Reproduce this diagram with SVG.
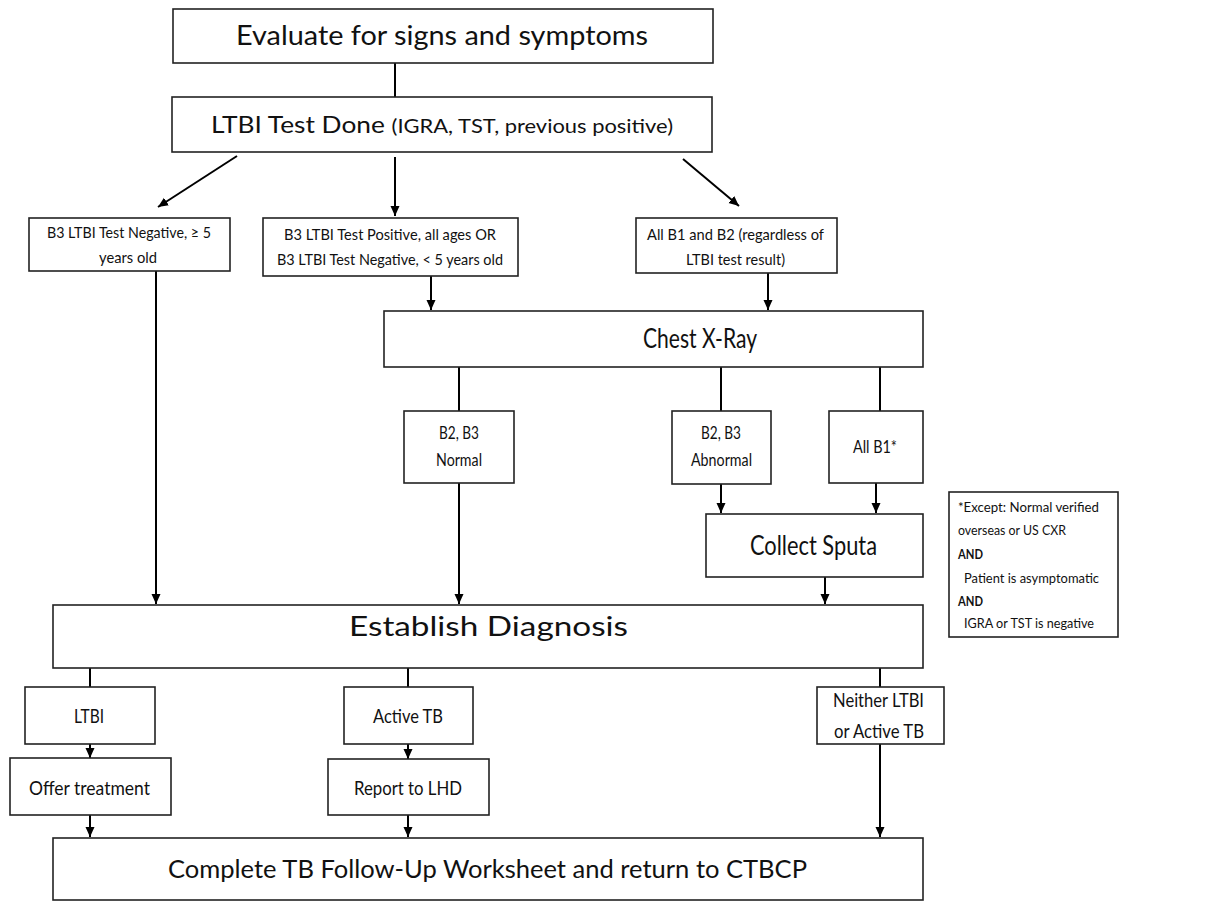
<svg xmlns="http://www.w3.org/2000/svg" width="1225" height="902" viewBox="0 0 1225 902">
<style>
.box{fill:#fff;stroke:#222;stroke-width:1.6}
.t{font-family:Lato,"Liberation Sans",sans-serif;fill:#111}
.s{font-size:16px}
.m{font-size:19px}
.n{font-size:14px}
.c{stroke:#000;stroke-width:2;fill:none}
.a{marker-end:url(#ah)}
</style>
<defs>
<marker id="ah" markerUnits="userSpaceOnUse" markerWidth="10" markerHeight="10" viewBox="0 0 10 10" refX="10" refY="5" orient="auto">
<path d="M0,0.5 L10,5 L0,9.5 z" fill="#000"/>
</marker>
</defs>
<rect width="1225" height="902" fill="#fff"/>
<g id="connectors">
<line class="c" x1="395" y1="63" x2="395" y2="97"/>
<line class="c a" x1="237" y1="156" x2="158" y2="207"/>
<line class="c a" x1="395" y1="157" x2="395" y2="216"/>
<line class="c a" x1="683" y1="159" x2="739" y2="206"/>
<line class="c a" x1="156" y1="271" x2="156" y2="604"/>
<line class="c a" x1="431" y1="276" x2="431" y2="310"/>
<line class="c a" x1="768" y1="273" x2="768" y2="310"/>
<line class="c" x1="459" y1="367" x2="459" y2="411"/>
<line class="c a" x1="459" y1="483" x2="459" y2="604"/>
<line class="c" x1="721" y1="367" x2="721" y2="411"/>
<line class="c a" x1="721" y1="484" x2="721" y2="513"/>
<line class="c" x1="880" y1="367" x2="880" y2="411"/>
<line class="c a" x1="876" y1="483" x2="876" y2="513"/>
<line class="c a" x1="825" y1="577" x2="825" y2="604"/>
<line class="c" x1="90" y1="668" x2="90" y2="687"/>
<line class="c a" x1="90" y1="744" x2="90" y2="758"/>
<line class="c a" x1="90" y1="815" x2="90" y2="837"/>
<line class="c" x1="408" y1="668" x2="408" y2="687"/>
<line class="c a" x1="408" y1="744" x2="408" y2="759"/>
<line class="c a" x1="408" y1="815" x2="408" y2="837"/>
<line class="c" x1="880" y1="668" x2="880" y2="687"/>
<line class="c a" x1="880" y1="744" x2="880" y2="837"/>
</g>
<g id="evaluate">
<rect class="box" x="173" y="9" width="540" height="54"/>
<text class="t" x="236" y="45" font-size="26" textLength="412" lengthAdjust="spacingAndGlyphs">Evaluate for signs and symptoms</text>
</g>
<g id="ltbi-test">
<rect class="box" x="172" y="97" width="540" height="55"/>
<text class="t" x="211" y="133" textLength="462" lengthAdjust="spacingAndGlyphs"><tspan font-size="24">LTBI Test Done </tspan><tspan font-size="20">(IGRA, TST, previous positive)</tspan></text>
</g>
<g id="b3-negative">
<rect class="box" x="29" y="218" width="201" height="53"/>
<text class="t s" x="47" y="238" textLength="164" lengthAdjust="spacingAndGlyphs">B3 LTBI Test Negative, ≥ 5</text>
<text class="t s" x="99" y="263" textLength="58" lengthAdjust="spacingAndGlyphs">years old</text>
</g>
<g id="b3-positive">
<rect class="box" x="263" y="218" width="255" height="58"/>
<text class="t s" x="284" y="240" textLength="212" lengthAdjust="spacingAndGlyphs">B3 LTBI Test Positive, all ages OR</text>
<text class="t s" x="277" y="265" textLength="226" lengthAdjust="spacingAndGlyphs">B3 LTBI Test Negative, &lt; 5 years old</text>
</g>
<g id="all-b1-b2">
<rect class="box" x="636" y="218" width="201" height="55"/>
<text class="t s" x="647" y="240" textLength="177" lengthAdjust="spacingAndGlyphs">All B1 and B2 (regardless of</text>
<text class="t s" x="686" y="265" textLength="99" lengthAdjust="spacingAndGlyphs">LTBI test result)</text>
</g>
<g id="chest-xray">
<rect class="box" x="384" y="311" width="539" height="56"/>
<text class="t" x="643" y="348" font-size="26" textLength="114" lengthAdjust="spacingAndGlyphs">Chest X-Ray</text>
</g>
<g id="normal">
<rect class="box" x="404" y="411" width="110" height="72"/>
<text class="t" x="439" y="439" font-size="17" textLength="40" lengthAdjust="spacingAndGlyphs">B2, B3</text>
<text class="t" x="436" y="466" font-size="17" textLength="46" lengthAdjust="spacingAndGlyphs">Normal</text>
</g>
<g id="abnormal">
<rect class="box" x="672" y="411" width="99" height="73"/>
<text class="t" x="701" y="439" font-size="17" textLength="40" lengthAdjust="spacingAndGlyphs">B2, B3</text>
<text class="t" x="691" y="466" font-size="17" textLength="61" lengthAdjust="spacingAndGlyphs">Abnormal</text>
</g>
<g id="all-b1">
<rect class="box" x="829" y="411" width="94" height="72"/>
<text class="t" x="853" y="453" font-size="17" textLength="44" lengthAdjust="spacingAndGlyphs">All B1*</text>
</g>
<g id="collect-sputa">
<rect class="box" x="706" y="514" width="217" height="63"/>
<text class="t" x="750" y="555" font-size="26" textLength="127" lengthAdjust="spacingAndGlyphs">Collect Sputa</text>
</g>
<g id="note">
<rect class="box" x="949" y="492" width="169" height="145"/>
<text class="t n" x="958" y="512" textLength="141" lengthAdjust="spacingAndGlyphs">*Except:  Normal verified</text>
<text class="t n" x="958" y="535" textLength="108" lengthAdjust="spacingAndGlyphs">overseas or US CXR</text>
<text class="t n" x="958" y="559" font-weight="bold" textLength="25" lengthAdjust="spacingAndGlyphs">AND</text>
<text class="t n" x="964" y="583" textLength="135" lengthAdjust="spacingAndGlyphs">Patient is asymptomatic</text>
<text class="t n" x="958" y="606" font-weight="bold" textLength="25" lengthAdjust="spacingAndGlyphs">AND</text>
<text class="t n" x="964" y="628" textLength="130" lengthAdjust="spacingAndGlyphs">IGRA or TST is negative</text>
</g>
<g id="establish">
<rect class="box" x="53" y="605" width="870" height="63"/>
<text class="t" x="349" y="636" font-size="26" textLength="279" lengthAdjust="spacingAndGlyphs">Establish Diagnosis</text>
</g>
<g id="ltbi">
<rect class="box" x="25" y="687" width="130" height="57"/>
<text class="t m" x="74" y="723" textLength="30" lengthAdjust="spacingAndGlyphs">LTBI</text>
</g>
<g id="offer-treatment">
<rect class="box" x="10" y="758" width="161" height="57"/>
<text class="t m" x="29" y="795" textLength="121" lengthAdjust="spacingAndGlyphs">Offer treatment</text>
</g>
<g id="active-tb">
<rect class="box" x="344" y="687" width="129" height="57"/>
<text class="t m" x="373" y="723" textLength="70" lengthAdjust="spacingAndGlyphs">Active TB</text>
</g>
<g id="report-lhd">
<rect class="box" x="328" y="759" width="161" height="56"/>
<text class="t m" x="354" y="795" textLength="108" lengthAdjust="spacingAndGlyphs">Report to LHD</text>
</g>
<g id="neither">
<rect class="box" x="817" y="687" width="127" height="57"/>
<text class="t" x="833" y="707" font-size="20" textLength="91" lengthAdjust="spacingAndGlyphs">Neither LTBI</text>
<text class="t" x="834" y="738" font-size="20" textLength="90" lengthAdjust="spacingAndGlyphs">or Active TB</text>
</g>
<g id="complete">
<rect class="box" x="53" y="838" width="870" height="62"/>
<text class="t" x="168" y="878" font-size="25" textLength="639" lengthAdjust="spacingAndGlyphs">Complete TB Follow-Up Worksheet and return to CTBCP</text>
</g>
</svg>
